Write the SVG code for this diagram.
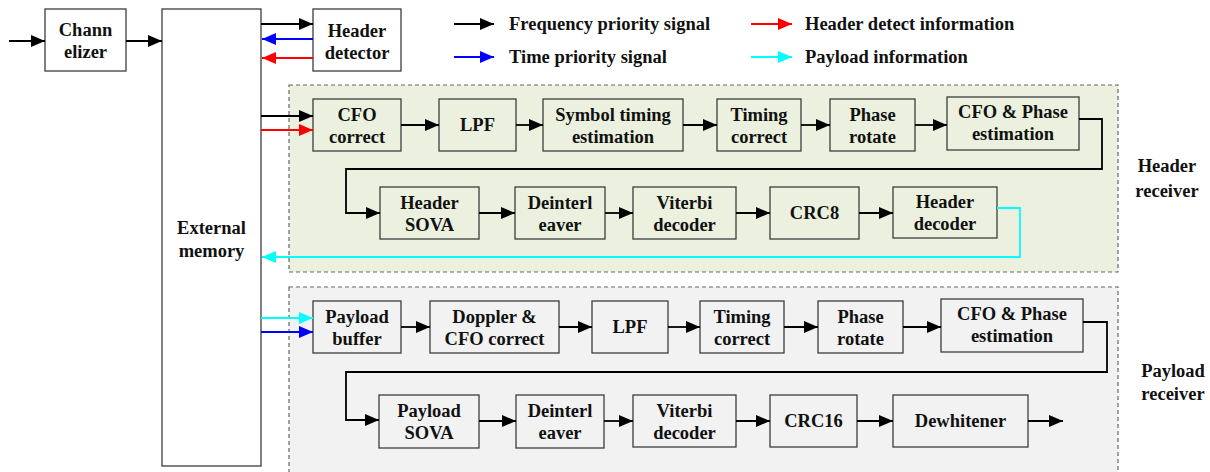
<svg xmlns="http://www.w3.org/2000/svg" width="1210" height="472" viewBox="0 0 1210 472">
  <style>
    text { font-family: "Liberation Serif", "Times New Roman", serif; font-weight: bold; font-size: 18.5px; fill: #111; text-anchor: middle; }
    .legend { text-anchor: start; }
    .box { stroke: #3c3c3c; stroke-width: 1.3; }
    .w { fill: #ffffff; }
    .g { fill: #ebf1de; }
    .p { fill: #f2f2f2; }
    .frame { stroke: #666; stroke-width: 1.2; stroke-dasharray: 4 3; }
    .k { stroke: #000; stroke-width: 1.8; fill: none; marker-end: url(#ak); }
    .r { stroke: #ff0000; stroke-width: 1.8; fill: none; marker-end: url(#ar); }
    .b { stroke: #0000ff; stroke-width: 1.8; fill: none; marker-end: url(#ab); }
    .c { stroke: #00ffff; stroke-width: 1.8; fill: none; marker-end: url(#ac); }
  </style>
  <defs>
    <marker id="ak" markerUnits="userSpaceOnUse" markerWidth="14" markerHeight="12" refX="14" refY="6" orient="auto"><path d="M0,0 L14,6 L0,12 z" fill="#000"/></marker>
    <marker id="ar" markerUnits="userSpaceOnUse" markerWidth="14" markerHeight="12" refX="14" refY="6" orient="auto"><path d="M0,0 L14,6 L0,12 z" fill="#ff0000"/></marker>
    <marker id="ab" markerUnits="userSpaceOnUse" markerWidth="14" markerHeight="12" refX="14" refY="6" orient="auto"><path d="M0,0 L14,6 L0,12 z" fill="#0000ff"/></marker>
    <marker id="ac" markerUnits="userSpaceOnUse" markerWidth="14" markerHeight="12" refX="14" refY="6" orient="auto"><path d="M0,0 L14,6 L0,12 z" fill="#00ffff"/></marker>
  </defs>

  <!-- receiver frames -->
  <g id="header-receiver">
    <rect class="frame g" x="289" y="85" width="829" height="187"/>
    <text x="1167" y="172">Header</text>
    <text x="1167" y="197">receiver</text>
  </g>
  <g id="payload-receiver">
    <rect class="frame p" x="289" y="287" width="829" height="195"/>
    <text x="1173" y="377">Payload</text>
    <text x="1173" y="400">receiver</text>
  </g>

  <!-- legend -->
  <g id="legend">
    <line class="k" x1="454" y1="24" x2="494" y2="24"/>
    <text class="legend" x="509" y="30">Frequency priority signal</text>
    <line class="b" x1="454" y1="57" x2="494" y2="57"/>
    <text class="legend" x="509" y="63">Time priority signal</text>
    <line class="r" x1="751" y1="24" x2="792" y2="24"/>
    <text class="legend" x="805" y="30">Header detect information</text>
    <line class="c" x1="751" y1="57" x2="792" y2="57"/>
    <text class="legend" x="805" y="63">Payload information</text>
  </g>

  <!-- front end -->
  <g id="channelizer">
    <rect class="box w" x="45" y="9" width="81" height="62"/>
    <text x="85.5" y="36">Chann</text>
    <text x="85.5" y="58">elizer</text>
  </g>
  <g id="external-memory">
    <rect class="box w" x="162" y="9" width="99" height="457"/>
    <text x="211.5" y="234">External</text>
    <text x="211.5" y="257">memory</text>
  </g>
  <g id="header-detector">
    <rect class="box w" x="313" y="9" width="88" height="62"/>
    <text x="357" y="37">Header</text>
    <text x="357" y="59">detector</text>
  </g>

  <!-- header receiver chain -->
  <g id="cfo-correct-h"><rect class="box g" x="313" y="99" width="88" height="52"/><text x="357" y="121">CFO</text><text x="357" y="143">correct</text></g>
  <g id="lpf-h"><rect class="box g" x="439" y="99" width="77" height="52"/><text x="477.5" y="131">LPF</text></g>
  <g id="symbol-timing"><rect class="box g" x="543" y="99" width="140" height="52"/><text x="613" y="121">Symbol timing</text><text x="613" y="143">estimation</text></g>
  <g id="timing-correct-h"><rect class="box g" x="717" y="99" width="84" height="52"/><text x="759" y="121">Timing</text><text x="759" y="143">correct</text></g>
  <g id="phase-rotate-h"><rect class="box g" x="830" y="99" width="85" height="52"/><text x="872.5" y="121">Phase</text><text x="872.5" y="143">rotate</text></g>
  <g id="cfo-phase-h"><rect class="box g" x="947" y="97" width="132" height="53"/><text x="1013" y="118">CFO &amp; Phase</text><text x="1013" y="140">estimation</text></g>
  <g id="header-sova"><rect class="box g" x="380" y="187" width="99" height="52"/><text x="429.5" y="209">Header</text><text x="429.5" y="231">SOVA</text></g>
  <g id="deinterleaver-h"><rect class="box g" x="515" y="187" width="90" height="52"/><text x="560" y="209">Deinterl</text><text x="560" y="231">eaver</text></g>
  <g id="viterbi-h"><rect class="box g" x="633" y="187" width="103" height="52"/><text x="684.5" y="209">Viterbi</text><text x="684.5" y="231">decoder</text></g>
  <g id="crc8"><rect class="box g" x="770" y="187" width="89" height="52"/><text x="814.5" y="219">CRC8</text></g>
  <g id="header-decoder"><rect class="box g" x="893" y="187" width="104" height="51"/><text x="945" y="208">Header</text><text x="945" y="230">decoder</text></g>

  <!-- payload receiver chain -->
  <g id="payload-buffer"><rect class="box p" x="313" y="301" width="88" height="52"/><text x="357" y="323">Payload</text><text x="357" y="345">buffer</text></g>
  <g id="doppler-cfo"><rect class="box p" x="430" y="301" width="129" height="52"/><text x="494.5" y="323">Doppler &amp;</text><text x="494.5" y="345">CFO correct</text></g>
  <g id="lpf-p"><rect class="box p" x="592" y="301" width="76" height="52"/><text x="630" y="333">LPF</text></g>
  <g id="timing-correct-p"><rect class="box p" x="700" y="301" width="84" height="52"/><text x="742" y="323">Timing</text><text x="742" y="345">correct</text></g>
  <g id="phase-rotate-p"><rect class="box p" x="818" y="301" width="85" height="52"/><text x="860.5" y="323">Phase</text><text x="860.5" y="345">rotate</text></g>
  <g id="cfo-phase-p"><rect class="box p" x="941" y="299" width="142" height="53"/><text x="1012" y="320">CFO &amp; Phase</text><text x="1012" y="342">estimation</text></g>
  <g id="payload-sova"><rect class="box p" x="379" y="395" width="100" height="53"/><text x="429" y="417">Payload</text><text x="429" y="439">SOVA</text></g>
  <g id="deinterleaver-p"><rect class="box p" x="516" y="395" width="88" height="53"/><text x="560" y="417">Deinterl</text><text x="560" y="439">eaver</text></g>
  <g id="viterbi-p"><rect class="box p" x="633" y="395" width="103" height="52"/><text x="684.5" y="417">Viterbi</text><text x="684.5" y="439">decoder</text></g>
  <g id="crc16"><rect class="box p" x="770" y="395" width="87" height="52"/><text x="813.5" y="427">CRC16</text></g>
  <g id="dewhitener"><rect class="box p" x="893" y="395" width="135" height="52"/><text x="960.5" y="427">Dewhitener</text></g>

  <!-- connectors -->
  <g id="connectors">
    <line class="k" x1="9" y1="41" x2="45" y2="41"/>
    <line class="k" x1="126" y1="41" x2="162" y2="41"/>
    <line class="k" x1="261" y1="24" x2="313" y2="24"/>
    <line class="b" x1="313" y1="39" x2="262" y2="39"/>
    <line class="r" x1="313" y1="58" x2="262" y2="58"/>
    <line class="k" x1="261" y1="116" x2="313" y2="116"/>
    <line class="r" x1="261" y1="130" x2="313" y2="130"/>

    <line class="k" x1="401" y1="125" x2="439" y2="125"/>
    <line class="k" x1="516" y1="125" x2="543" y2="125"/>
    <line class="k" x1="683" y1="125" x2="717" y2="125"/>
    <line class="k" x1="801" y1="125" x2="830" y2="125"/>
    <line class="k" x1="915" y1="125" x2="947" y2="125"/>
    <polyline class="k" points="1079,119 1102,119 1102,169 346,169 346,213 380,213"/>
    <line class="k" x1="479" y1="213" x2="515" y2="213"/>
    <line class="k" x1="605" y1="213" x2="633" y2="213"/>
    <line class="k" x1="736" y1="213" x2="770" y2="213"/>
    <line class="k" x1="859" y1="213" x2="893" y2="213"/>
    <polyline class="c" points="997,208 1020,208 1020,257 262,257"/>

    <line class="c" x1="261" y1="318" x2="313" y2="318"/>
    <line class="b" x1="261" y1="332" x2="313" y2="332"/>
    <line class="k" x1="401" y1="327" x2="430" y2="327"/>
    <line class="k" x1="559" y1="327" x2="592" y2="327"/>
    <line class="k" x1="668" y1="327" x2="700" y2="327"/>
    <line class="k" x1="784" y1="327" x2="818" y2="327"/>
    <line class="k" x1="903" y1="327" x2="941" y2="327"/>
    <polyline class="k" points="1083,322 1107,322 1107,372 346,372 346,420 379,420"/>
    <line class="k" x1="479" y1="421" x2="516" y2="421"/>
    <line class="k" x1="604" y1="421" x2="633" y2="421"/>
    <line class="k" x1="736" y1="421" x2="770" y2="421"/>
    <line class="k" x1="857" y1="421" x2="893" y2="421"/>
    <line class="k" x1="1028" y1="421" x2="1063" y2="421"/>
  </g>
</svg>
